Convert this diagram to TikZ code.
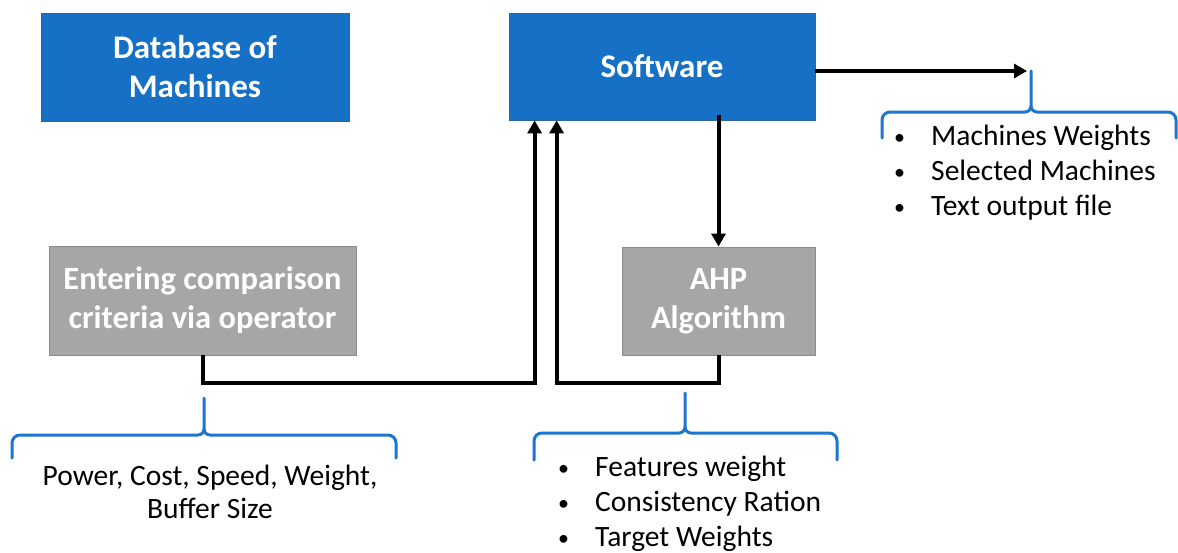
\documentclass[tikz,border=0pt]{standalone}
\usepackage{fontspec}
\setmainfont{Carlito}
\usetikzlibrary{arrows.meta,calc}
\definecolor{boxblue}{RGB}{21,112,198}
\definecolor{boxblueedge}{RGB}{46,100,160}
\definecolor{boxgray}{RGB}{166,166,166}
\definecolor{boxgrayedge}{RGB}{140,140,140}
\definecolor{bracecol}{RGB}{28,117,207}
\tikzset{
  bluebox/.style={draw=boxblueedge, line width=0.8, fill=boxblue, text=white,
    font=\bfseries\fontsize{33}{39}\selectfont, align=center, inner sep=0},
  graybox/.style={draw=boxgrayedge, line width=0.8, fill=boxgray, text=white,
    font=\bfseries\fontsize{32.5}{39}\selectfont, align=center, inner sep=0},
  flow/.style={line width=4, -{Triangle[length=13,width=14]}},
  bracepath/.style={draw=bracecol, line width=3, line cap=round, line join=round},
  listtext/.style={font=\fontsize{29.5}{35}\selectfont, align=left, inner sep=0, anchor=west},
}
% one curly bracket: tip at (#1,#2), bar at #3, ends from x #4 to #5 reaching down to #6
\newcommand{\curlybracket}[6]{%
  \draw[bracepath] (#4,#6) -- (#4,#3+8) to[out=90,in=180] (#4+8,#3)
    -- (#1-6,#3) to[out=0,in=-90] (#1,#3-6) -- (#1,#2);
  \draw[bracepath] (#5,#6) -- (#5,#3+8) to[out=90,in=0] (#5-8,#3)
    -- (#1+6,#3) to[out=180,in=-90] (#1,#3-6);
}
\newcommand{\bulletline}[1]{\makebox[37pt][l]{\raisebox{1pt}{\fontsize{22}{22}\selectfont•}}#1}
\begin{document}
\begin{tikzpicture}[x=1pt,y=-1pt]
\useasboundingbox (0,0) rectangle (1178,552);

% blocks
\node[bluebox, minimum width=308, minimum height=108] (db) at (195,67) {Database of\\Machines};
\node[bluebox, minimum width=306, minimum height=107] (sw) at (662,66.5) {Software};
\node[graybox, minimum width=307, minimum height=109] (enter) at (202.5,300.5) {Entering comparison\\criteria via operator};
\node[graybox, minimum width=193, minimum height=108] (ahp) at (718.5,301) {AHP\\Algorithm};

% bracket tips
\coordinate (outtip) at (1031,71);
\coordinate (crittip) at (204,398);
\coordinate (ahptip) at (685,393);

% connectors
\draw[flow, shorten >=4] (sw.east |- outtip) -- (outtip);
\draw[flow] ([yshift=5]sw.south -| ahp.north) -- (ahp.north);
\draw[flow] (enter.south) -- ++(0,28) -| ([xshift=26]sw.south west);
\draw[flow] (ahp.south) -- ++(0,28) -| ([xshift=48]sw.south west);

% brackets
\curlybracket{1031}{71}{112}{882}{1176}{138}
\curlybracket{204}{398}{435}{12}{396}{458}
\curlybracket{685}{393}{433}{534}{837}{460}

% bracket texts
\node[listtext] (outlist) at (894,173) {\bulletline{Machines Weights}\\\bulletline{Selected Machines}\\\bulletline{Text output file}};
\node[font=\fontsize{29.5}{33}\selectfont, align=center, inner sep=0] (critlist) at (210,492) {Power, Cost, Speed, Weight,\\Buffer Size};
\node[listtext] (ahplist) at (558,503.5) {\bulletline{Features weight}\\\bulletline{Consistency Ration}\\\bulletline{Target Weights}};
\end{tikzpicture}
\end{document}
